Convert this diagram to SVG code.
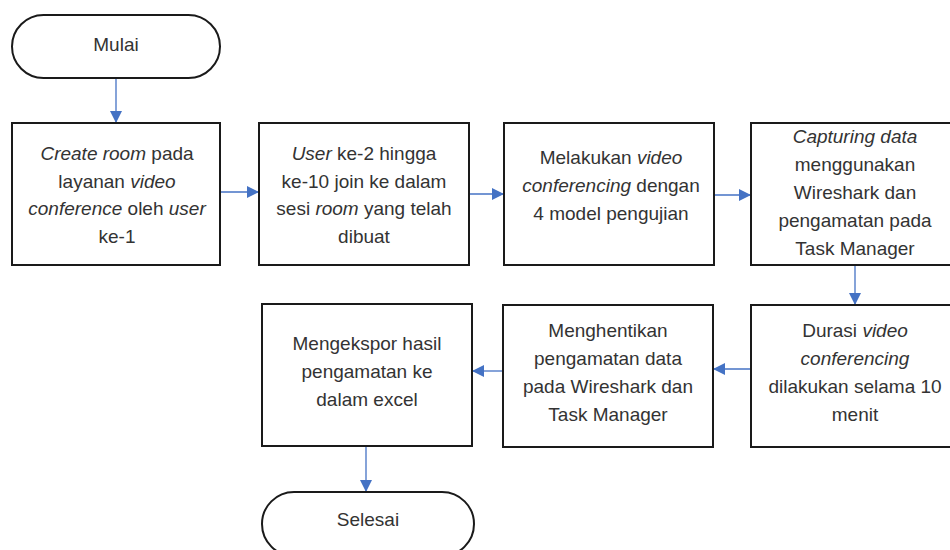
<svg xmlns="http://www.w3.org/2000/svg" width="950" height="550" viewBox="0 0 950 550">
<defs>
<style>
.box{fill:#fff;stroke:#1a1a1a;stroke-width:2}
.t{font-family:"Liberation Sans",Arial,sans-serif;font-size:19px;fill:#333;text-anchor:middle}
.i{font-style:italic}
.c{stroke:#4472C4;stroke-width:1.3;fill:none;marker-end:url(#ah)}
</style>
<marker id="ah" viewBox="0 0 12 12" refX="12" refY="6" markerWidth="12" markerHeight="12" markerUnits="userSpaceOnUse" orient="auto">
<path d="M0,0 L12,6 L0,12 Z" fill="#4472C4"/>
</marker>
</defs>
<rect width="950" height="550" fill="#fff"/>
<g id="connectors">
<line class="c" x1="116" y1="78" x2="116" y2="123"/>
<line class="c" x1="220" y1="192" x2="259" y2="192"/>
<line class="c" x1="469" y1="194" x2="504" y2="194"/>
<line class="c" x1="714" y1="195" x2="751" y2="195"/>
<line class="c" x1="855" y1="265" x2="855" y2="305"/>
<line class="c" x1="751" y1="369" x2="713" y2="369"/>
<line class="c" x1="503" y1="371" x2="472" y2="371"/>
<line class="c" x1="366" y1="446" x2="366" y2="492"/>
</g>
<g id="mulai">
<rect class="box" x="12" y="15" width="208" height="63" rx="31.5" ry="31.5"/>
<text class="t" x="116" y="51">Mulai</text>
</g>
<g id="create-room">
<rect class="box" x="12" y="123" width="208" height="142"/>
<text class="t" x="117"><tspan x="117" y="160"><tspan class="i">Create room</tspan> pada</tspan><tspan x="117" y="187.7">layanan <tspan class="i">video</tspan></tspan><tspan x="117" y="215.4"><tspan class="i">conference</tspan> oleh <tspan class="i">user</tspan></tspan><tspan x="117" y="243">ke-1</tspan></text>
</g>
<g id="join">
<rect class="box" x="259" y="123" width="210" height="142"/>
<text class="t"><tspan x="364" y="160"><tspan class="i">User</tspan> ke-2 hingga</tspan><tspan x="364" y="187.7">ke-10 join ke dalam</tspan><tspan x="364" y="215.4">sesi <tspan class="i">room</tspan> yang telah</tspan><tspan x="364" y="243">dibuat</tspan></text>
</g>
<g id="vicon">
<rect class="box" x="504" y="123" width="210" height="142"/>
<text class="t"><tspan x="611" y="164">Melakukan <tspan class="i">video</tspan></tspan><tspan x="611" y="192"><tspan class="i">conferencing</tspan> dengan</tspan><tspan x="611" y="220">4 model pengujian</tspan></text>
</g>
<g id="capture">
<rect class="box" x="751" y="123" width="212" height="142"/>
<text class="t"><tspan x="855" y="143" class="i">Capturing data</tspan><tspan x="855" y="171">menggunakan</tspan><tspan x="855" y="199">Wireshark dan</tspan><tspan x="855" y="227">pengamatan pada</tspan><tspan x="855" y="255">Task Manager</tspan></text>
</g>
<g id="durasi">
<rect class="box" x="751" y="305" width="212" height="142"/>
<text class="t"><tspan x="855" y="337">Durasi <tspan class="i">video</tspan></tspan><tspan x="855" y="365" class="i">conferencing</tspan><tspan x="855" y="393">dilakukan selama 10</tspan><tspan x="855" y="421">menit</tspan></text>
</g>
<g id="stop">
<rect class="box" x="503" y="305" width="210" height="142"/>
<text class="t"><tspan x="608" y="337">Menghentikan</tspan><tspan x="608" y="365">pengamatan data</tspan><tspan x="608" y="393">pada Wireshark dan</tspan><tspan x="608" y="421">Task Manager</tspan></text>
</g>
<g id="export">
<rect class="box" x="262" y="304" width="210" height="142"/>
<text class="t"><tspan x="367" y="350">Mengekspor hasil</tspan><tspan x="367" y="378">pengamatan ke</tspan><tspan x="367" y="406">dalam excel</tspan></text>
</g>
<g id="selesai">
<rect class="box" x="262" y="492" width="212" height="64" rx="32" ry="32"/>
<text class="t" x="368" y="526">Selesai</text>
</g>
</svg>
